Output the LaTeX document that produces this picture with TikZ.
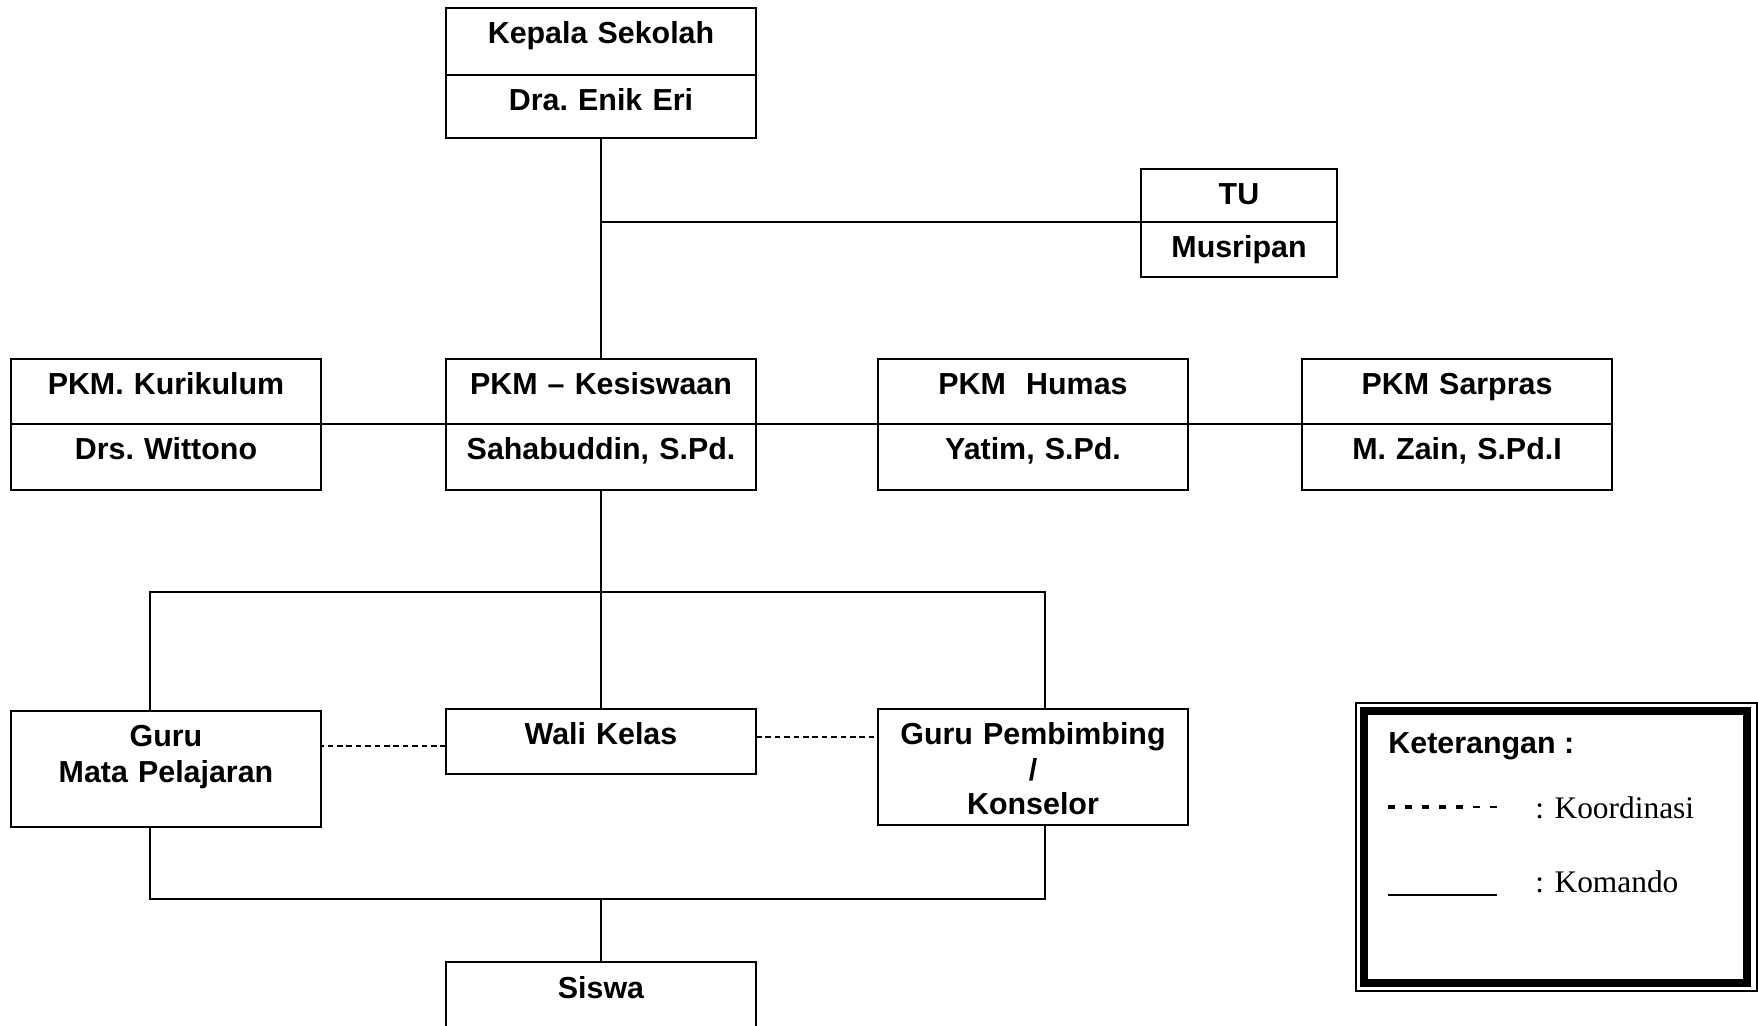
\documentclass[tikz,border=0pt]{standalone}
\usepackage{fontspec}
\setmainfont{Liberation Sans}
\newfontfamily\serifnote{Liberation Serif}
\usetikzlibrary{positioning}

\begin{document}
\begin{tikzpicture}[x=0.5pt, y=-0.5pt,
  every node/.style={font=\fontsize{15.2}{17.5}\selectfont\bfseries\frenchspacing},
  cell/.style={draw, line width=1.3pt, inner sep=0pt, outer sep=0pt, text width=155pt, align=center, text height=18pt},
  komando/.style={line width=1.2pt},
  koord/.style={line width=1pt, dash pattern=on 2.8pt off 1.9pt},
  legtext/.style={anchor=base west, inner sep=0pt, font=\serifnote\fontsize{15.7}{18}\selectfont}]
\path[use as bounding box] (0,0) rectangle (1758,1026);
\clip (0,0) rectangle (1758,1026);

% Draw the head of school and TU
\node[cell, anchor=north, text depth=15.5pt] (kepT) at (601,8) {Kepala Sekolah};
\node[cell, below=0pt of kepT, text depth=13.5pt] (kepB) {Dra. Enik Eri};
\node[cell, text width=98pt, anchor=north, text depth=8.5pt] (tuT) at (1239,169) {TU};
\node[cell, text width=98pt, below=0pt of tuT, text depth=9.5pt] (tuB) {Musripan};

% Draw the four PKM boxes
\node[cell, anchor=north, text depth=14.5pt] (kurT) at (166,359) {PKM. Kurikulum};
\node[cell, below=0pt of kurT, text depth=15pt] (kurB) {Drs. Wittono};
\node[cell, anchor=north, text depth=14.5pt] (kesT) at (601,359) {PKM -- Kesiswaan};
\node[cell, below=0pt of kesT, text depth=15pt] (kesB) {Sahabuddin, S.Pd.};
\node[cell, anchor=north, text depth=14.5pt] (humT) at (1033,359) {PKM\ \ Humas};
\node[cell, below=0pt of humT, text depth=15pt] (humB) {Yatim, S.Pd.};
\node[cell, anchor=north, text depth=14.5pt] (sarT) at (1457,359) {PKM Sarpras};
\node[cell, below=0pt of sarT, text depth=15pt] (sarB) {M. Zain, S.Pd.I};

% Draw the teachers and the pupils
\node[cell, anchor=north, text depth=40pt] (gmp) at (166,711) {Guru\\Mata Pelajaran};
\node[cell, anchor=north, text depth=14.5pt] (wali) at (601,709) {Wali Kelas};
\node[cell, anchor=north, text depth=40pt] (gbk) at (1033,709) {Guru Pembimbing\\/\\Konselor};
\node[cell, anchor=north, text depth=31pt] (siswa) at (601,962) {Siswa};

% Draw the command lines
\draw[komando] (kepB.south) -- (kesT.north);
\draw[komando] (kepB.south |- tuT.south west) -- (tuT.south west);
\draw[komando] (kurT.south east) -- (kesT.south west);
\draw[komando] (kesT.south east) -- (humT.south west);
\draw[komando] (humT.south east) -- (sarT.south west);
\coordinate (brL) at (150,592);
\coordinate (brR) at (1045,592);
\draw[komando] (kesB.south) -- (kesB.south |- brL);
\draw[komando] (brL |- gmp.north) -- (brL) -- (brR) -- (brR |- gbk.north);
\draw[komando] (kesB.south |- brL) -- (wali.north);
\coordinate (bbL) at (150,899);
\coordinate (bbR) at (1045,899);
\draw[komando] (bbL |- gmp.south) -- (bbL) -- (bbR) -- (bbR |- gbk.south);
\draw[komando] (siswa.north |- bbL) -- (siswa.north);

% Draw the coordination lines
\draw[koord] ([yshift=-2.2pt]wali.west) -- ([yshift=-2.2pt]wali.west -| gmp.east);
\draw[koord] ([yshift=2.5pt]wali.east) -- ([yshift=2.5pt]wali.east -| gbk.west);

% Draw the legend
\draw[line width=1pt] (1355.5,703.5) rectangle (1756.5,990.5);
\draw[line width=4pt] (1363.5,711) rectangle (1746.5,983);
\node[anchor=base west, inner sep=0pt] (legtitle) at (1388,754) {Keterangan :};
\draw[line width=1.6pt, dash pattern=on 3.5pt off 5pt] (1388,807) -- (1464,807);
\draw[line width=0.9pt, dash pattern=on 3.5pt off 5pt] (1473,807) -- (1499,807);
\node[legtext] (legkoord) at (1535,818) {: Koordinasi};
\draw[line width=0.8pt] (1388,895) -- (1497,895);
\node[legtext] (legkomando) at (1535,892) {: Komando};
\end{tikzpicture}
\end{document}
